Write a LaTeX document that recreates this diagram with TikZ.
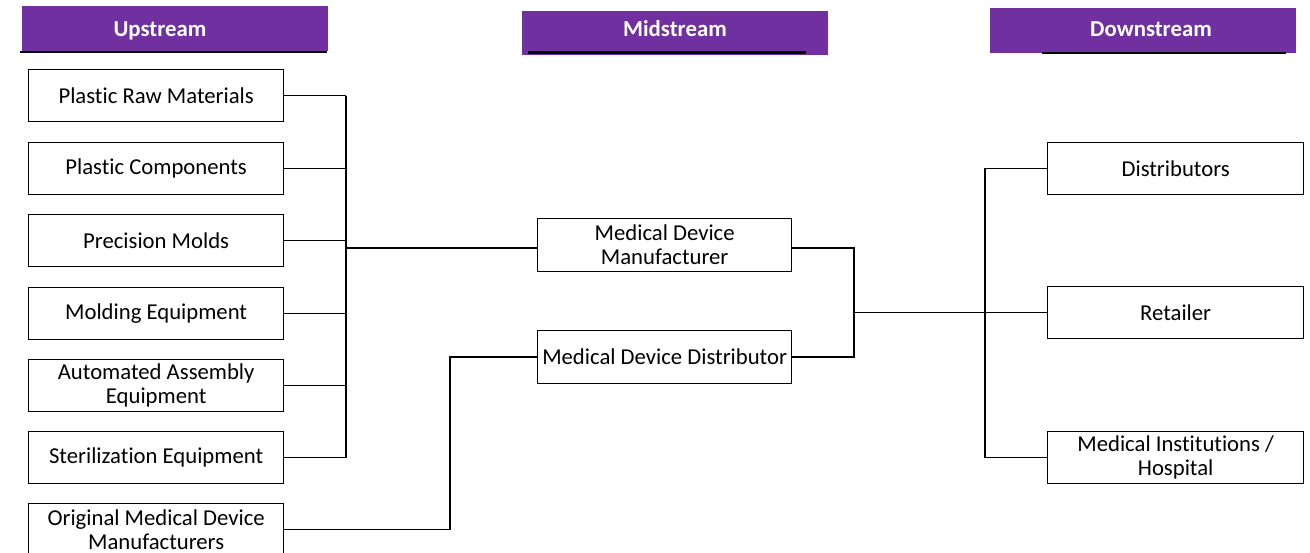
\documentclass[tikz,border=0pt]{standalone}
\usepackage{fontspec}
\setmainfont{Carlito}[Ligatures=NoCommon]
\definecolor{hdrpurple}{HTML}{7030A0}
\begin{document}
\begin{tikzpicture}[x=1pt,y=-1pt,
  box/.style={draw=black, line width=1.3pt, fill=white, minimum width=255pt,
    minimum height=52pt, align=center, inner sep=0pt, anchor=north west,
    font=\fontsize{22.7}{24}\selectfont},
  head/.style={fill=hdrpurple, minimum width=306pt, inner sep=0pt,
    anchor=north west},
  headtext/.style={text=white, inner sep=0pt, anchor=base,
    font=\bfseries\fontsize{22.8}{24}\selectfont},
  link/.style={line width=1.3pt},
  rule/.style={line width=2.2pt}]
\useasboundingbox (0,0) rectangle (1310,553);

% column headers
\node[head, minimum height=45pt] (up) at (22,6) {};
\node[head, minimum height=44pt] (mid) at (522,11) {};
\node[head, minimum height=45pt] (down) at (990,8) {};
\node[headtext] (uptext) at (160,36.5) {Upstream};
\node[headtext] (midtext) at (675,37) {Midstream};
\node[headtext] (downtext) at (1151,37) {Downstream};
\draw[rule] (20,52) -- (327,52);
\draw[rule] (528,52.5) -- (806,52.5);
\draw[rule] (1042,53) -- (1286,53);

% upstream suppliers
\node[box] (p1) at (28,69)  {Plastic Raw Materials};
\node[box] (p2) at (28,142) {Plastic Components};
\node[box] (p3) at (28,214) {Precision Molds};
\node[box] (p4) at (28,287) {Molding Equipment};
\node[box] (p5) at (28,359) {Automated Assembly\\Equipment};
\node[box] (p6) at (28,431) {Sterilization Equipment};
\node[box] (p7) at (28,503) {Original Medical Device\\Manufacturers};

% midstream
\node[box, minimum width=254pt, minimum height=53pt] (mdm) at (537,218) {Medical Device\\Manufacturer};
\node[box, minimum width=254pt, minimum height=53pt] (mdd) at (537,330) {Medical Device Distributor};

% downstream
\node[box, minimum width=256pt] (dist) at (1047,142) {Distributors};
\node[box, minimum width=256pt] (ret)  at (1047,286) {Retailer};
\node[box, minimum width=256pt] (hosp) at (1047,431) {Medical Institutions /\\Hospital};

% bus positions
\coordinate (ub) at (346,0);
\coordinate (ob) at (450,0);
\coordinate (mb) at (854,0);
\coordinate (db) at (985,0);

% manufacturer attachment points sit a little below the box centre
\coordinate (mdmin) at ([yshift=-3pt]mdm.west);
\coordinate (mdmout) at ([yshift=-3pt]mdm.east);

% upstream bus into the manufacturer
\foreach \n in {p1,p2,p3,p4,p5,p6}
  \draw[link] (\n.east) -- (\n.east -| ub);
\draw[link] (p1.east -| ub) -- (p6.east -| ub);
\draw[link] (mdmin -| ub) -- (mdmin);

% original manufacturers into the distributor
\draw[link] (p7.east) -- (p7.east -| ob) |- (mdd.west);

% midstream bus into downstream
\draw[link] (mdmout) -- (mdmout -| mb) |- (mdd.east);
\draw[link] (ret.west -| mb) -- (ret.west);
\draw[link] (dist.west) -- (dist.west -| db) -- (hosp.west -| db) -- (hosp.west);
\end{tikzpicture}
\end{document}
